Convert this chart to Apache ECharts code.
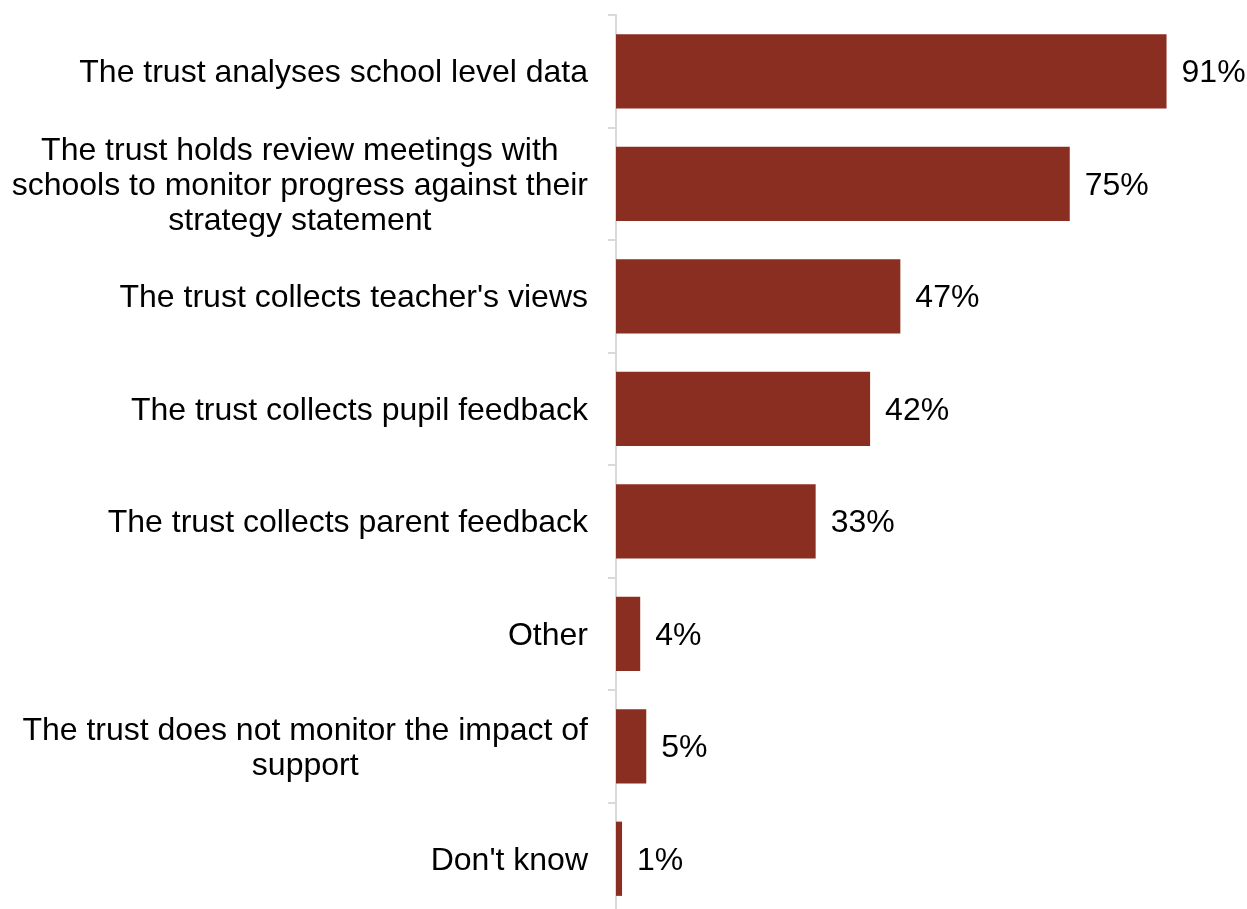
<!DOCTYPE html>
<html>
<head>
<meta charset="utf-8">
<style>
  html, body { margin: 0; padding: 0; background: #ffffff; }
  #chart { width: 1247px; height: 909px; }
</style>
<script src="https://cdn.jsdelivr.net/npm/echarts@6/dist/echarts.min.js"></script>
</head>
<body>
<div id="chart"></div>
<script>
// Ways the trust monitors the impact of support (% of respondents)
const categories = [
  "The trust analyses school level data",
  "The trust holds review meetings with\nschools to monitor progress against their\nstrategy statement",
  "The trust collects teacher's views",
  "The trust collects pupil feedback",
  "The trust collects parent feedback",
  "Other",
  "The trust does not monitor the impact of\nsupport",
  "Don't know"
];
const percentages = [91, 75, 47, 42, 33, 4, 5, 1];

const chart = echarts.init(document.getElementById('chart'), null, { renderer: 'canvas' });

const FONT = '"Liberation Sans", Arial, sans-serif';

chart.setOption({
  animation: false,
  backgroundColor: '#ffffff',
  grid: {
    left: 616, right: 26, top: 15, height: 900,
    containLabel: false,
    outerBoundsMode: 'none'
  },
  xAxis: {
    type: 'value',
    min: 0,
    max: 100,
    show: false
  },
  yAxis: {
    type: 'category',
    data: categories,
    inverse: true,
    axisLine: { show: true, lineStyle: { color: '#d9d9d9', width: 2 } },
    axisTick: { show: true, length: 8, lineStyle: { color: '#d9d9d9', width: 2 } },
    axisLabel: {
      margin: 28,
      fontFamily: FONT,
      fontSize: 32,
      color: '#000000',
      lineHeight: 35,
      padding: [4, 0, 0, 0],
      // each line centred within the label block, block right-aligned to the axis
      formatter: function (value) {
        return value.split('\n').map(function (line) { return '{c|' + line + '}'; }).join('\n');
      },
      rich: {
        c: { align: 'center', fontFamily: FONT, fontSize: 32, color: '#000000', lineHeight: 35 }
      }
    }
  },
  series: [{
    type: 'bar',
    data: percentages,
    barCategoryGap: '34%',
    itemStyle: { color: '#8B2E22' },
    label: {
      show: true,
      position: 'right',
      distance: 15,
      offset: [0, 2],
      formatter: '{c}%',
      fontFamily: FONT,
      fontSize: 32,
      color: '#000000'
    }
  }]
});
</script>
</body>
</html>
